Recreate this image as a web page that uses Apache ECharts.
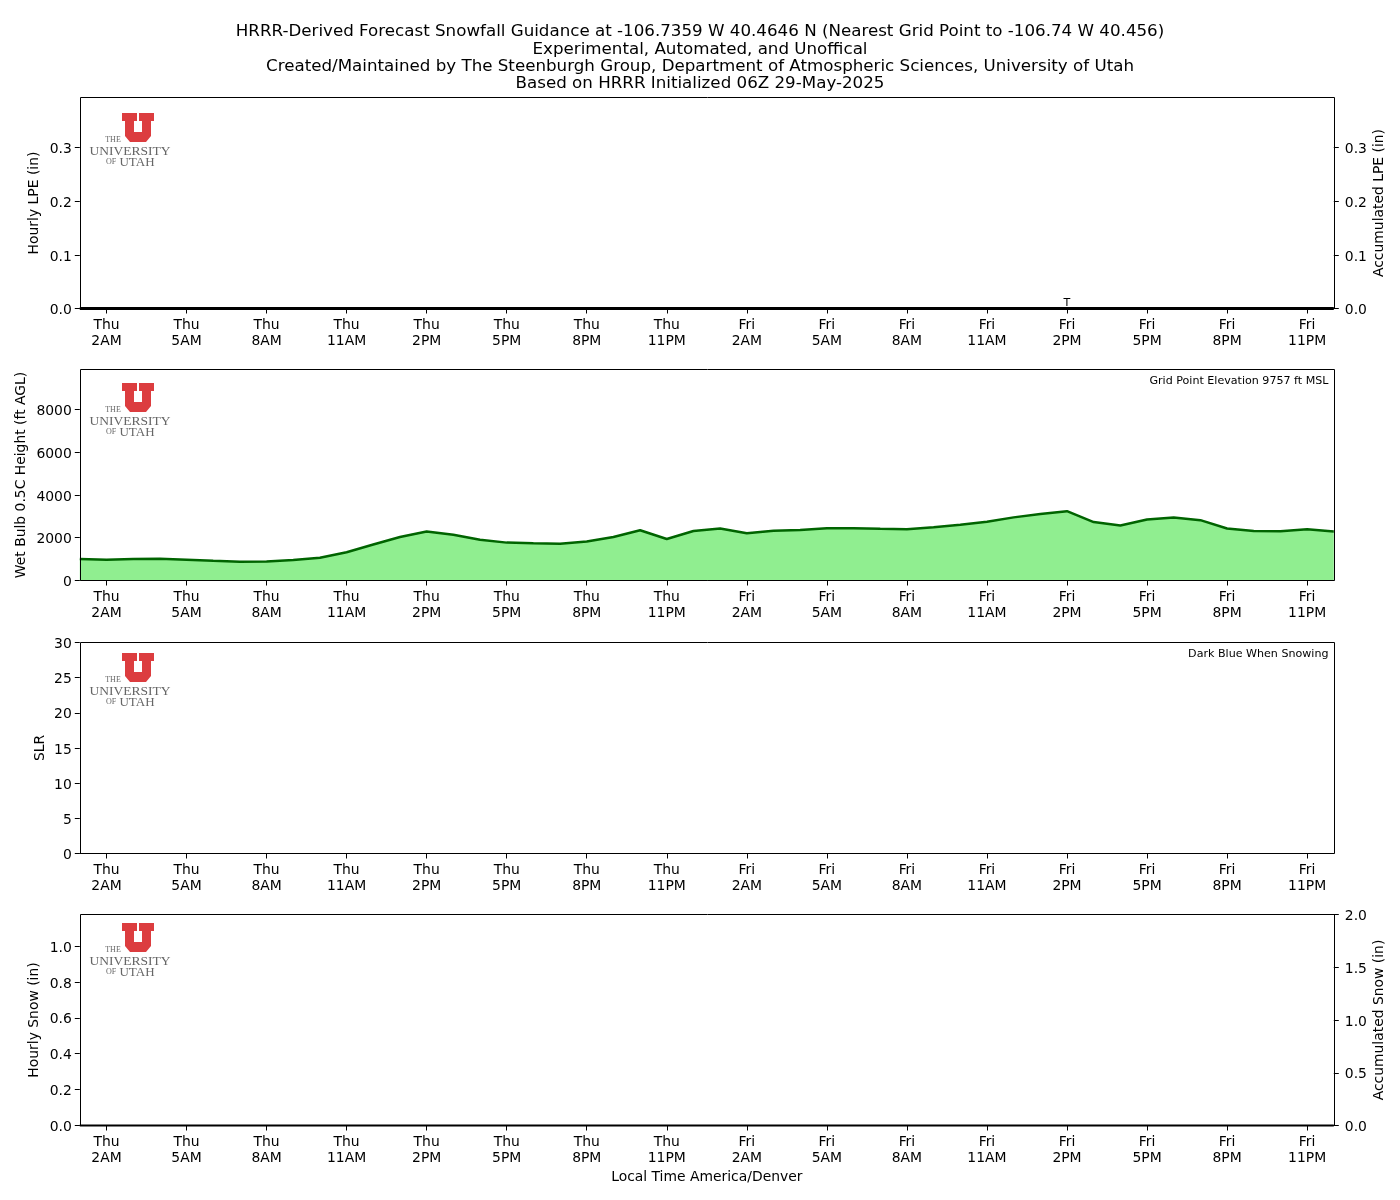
<!DOCTYPE html>
<html><head><meta charset="utf-8">
<style>html,body{margin:0;padding:0;background:#fff}#c{width:1400px;height:1200px}</style>
<script src="https://cdn.jsdelivr.net/npm/echarts@6/dist/echarts.min.js"></script>
</head><body><div id="c"></div>
<script>
var titleLines = [
 'HRRR-Derived Forecast Snowfall Guidance at -106.7359 W 40.4646 N (Nearest Grid Point to -106.74 W 40.456)',
 'Experimental, Automated, and Unoffical',
 'Created/Maintained by The Steenburgh Group, Department of Atmospheric Sciences, University of Utah',
 'Based on HRRR Initialized 06Z 29-May-2025'];
var hours = ['Thu\n1AM','Thu\n2AM','Thu\n3AM','Thu\n4AM','Thu\n5AM','Thu\n6AM','Thu\n7AM','Thu\n8AM','Thu\n9AM','Thu\n10AM','Thu\n11AM','Thu\n12PM','Thu\n1PM','Thu\n2PM','Thu\n3PM','Thu\n4PM','Thu\n5PM','Thu\n6PM','Thu\n7PM','Thu\n8PM','Thu\n9PM','Thu\n10PM','Thu\n11PM','Fri\n12AM','Fri\n1AM','Fri\n2AM','Fri\n3AM','Fri\n4AM','Fri\n5AM','Fri\n6AM','Fri\n7AM','Fri\n8AM','Fri\n9AM','Fri\n10AM','Fri\n11AM','Fri\n12PM','Fri\n1PM','Fri\n2PM','Fri\n3PM','Fri\n4PM','Fri\n5PM','Fri\n6PM','Fri\n7PM','Fri\n8PM','Fri\n9PM','Fri\n10PM','Fri\n11PM','Sat\n12AM'];
var wetBulb = [1000,970,1000,1020,970,920,880,890,960,1060,1320,1680,2030,2290,2140,1900,1770,1740,1720,1820,2030,2350,1940,2310,2430,2210,2330,2360,2440,2440,2415,2400,2490,2600,2750,2950,3110,3240,2730,2570,2850,2940,2820,2430,2310,2300,2390,2290];
var accumLPE = [0,0,0,0,0,0,0,0,0,0,0,0,0,0,0,0,0,0,0,0,0,0,0,0,0,0,0,0,0,0,0,0,0,0,0,0,0,0,0,0,0,0,0,0,0,0,0,0];
var accumSnow = [0,0,0,0,0,0,0,0,0,0,0,0,0,0,0,0,0,0,0,0,0,0,0,0,0,0,0,0,0,0,0,0,0,0,0,0,0,0,0,0,0,0,0,0,0,0,0,0];
var traceLabel = {index:37, value:0.0, text:'T'};
var lpeTicks = [0,0.1,0.2,0.3];
var wbTicks = [0,2000,4000,6000,8000];
var slrTicks = [0,5,10,15,20,25,30];
var snowTicks = [0,0.2,0.4,0.6,0.8,1.0];
var accSnowTicks = [0,0.5,1.0,1.5,2.0];
var logoU = [[0,0],[15,0],[15,8],[12,8],[12,19],[20,19],[20,8],[17,8],[17,0],[32,0],[32,8],[29,8],[29,23],[24,29],[8,29],[3,23],[3,8],[0,8]];

var FONT = '"DejaVu Sans"';
var tops = [97.5,369.5,642.5,914.5], H = 211, L = 79.8, W = 1254;
function xAxisFor(i){
  return {type:'category',gridIndex:i,data:hours,boundaryGap:false,
    axisLine:{show:true,onZero:false,lineStyle:{color:'#000',width:1}},
    axisTick:{alignWithLabel:true,length:5,interval:function(k){return k%3===1;},lineStyle:{color:'#000'}},
    axisLabel:{interval:function(k){return k%3===1;},color:'#000',fontFamily:FONT,fontSize:13.9,lineHeight:16,margin:9,hideOverlap:false},
    splitLine:{show:false},
    name:i===3?'Local Time America/Denver':'',nameLocation:'middle',nameGap:45,nameMoveOverlap:false,
    nameTextStyle:{color:'#000',fontFamily:FONT,fontSize:13.9}};
}
function yAxisFor(i,name,min,max,ticks,pos,gap,dec){
  return {type:'value',gridIndex:i,position:pos,min:min,max:max,scale:false,
    name:name,nameLocation:'middle',nameGap:gap,nameRotate:90,nameMoveOverlap:false,
    nameTextStyle:{color:'#000',fontFamily:FONT,fontSize:13.9},
    axisLine:{show:false},
    axisTick:{show:true,length:5,customValues:ticks,lineStyle:{color:'#000'}},
    axisLabel:{color:'#000',fontFamily:FONT,fontSize:13.9,margin:pos==='right'?11:8,verticalAlign:'top',padding:[-5,0,0,0],customValues:ticks,
      formatter:function(v){return dec===0?String(v):v.toFixed(dec);}},
    splitLine:{show:false}};
}
var grids = tops.map(function(t){return {left:L,top:t,width:W,height:H,show:false};});
var xAxes = [0,1,2,3].map(xAxisFor);
var yAxes = [
  yAxisFor(0,'Hourly LPE (in)',0,0.3937,lpeTicks,'left',38,1),
  yAxisFor(0,'Accumulated LPE (in)',0,0.3937,lpeTicks,'right',39,1),
  yAxisFor(1,'Wet Bulb 0.5C Height (ft AGL)',0,9860,wbTicks,'left',51,0),
  yAxisFor(2,'SLR',0,30,slrTicks,'left',32,0),
  yAxisFor(3,'Hourly Snow (in)',0,1.176,snowTicks,'left',38,1),
  yAxisFor(3,'Accumulated Snow (in)',0,2,accSnowTicks,'right',39,1)
];
var series = [
 {type:'line',xAxisIndex:0,yAxisIndex:1,data:accumLPE,symbol:'none',silent:true,clip:false,z:5,
  lineStyle:{color:'#000',width:3},
  markPoint:{silent:true,symbol:'circle',symbolSize:1,itemStyle:{color:'rgba(0,0,0,0)'},
    data:[{coord:[traceLabel.index,traceLabel.value],name:traceLabel.text,
      label:{show:true,position:'top',distance:-1,formatter:traceLabel.text,color:'#000',fontFamily:FONT,fontSize:11.1}}]}},
 {type:'line',xAxisIndex:1,yAxisIndex:2,data:wetBulb,symbol:'none',silent:true,
  lineStyle:{color:'#006400',width:2.5},areaStyle:{color:'#90EE90',opacity:1,origin:'start'},z:5},
 {type:'line',xAxisIndex:3,yAxisIndex:5,data:accumSnow,symbol:'none',silent:true,clip:false,z:5,
  lineStyle:{color:'#000',width:2}}
];
var graphic = [];
titleLines.forEach(function(s,i){
  graphic.push({type:'text',x:700,y:32+i*17.3,silent:true,z:20,
    style:{text:s,fill:'#000',font:'16.7px "DejaVu Sans"',align:'center',verticalAlign:'middle'}});
});
tops.forEach(function(t){
  graphic.push({type:'rect',silent:true,z:15,shape:{x:80.5,y:t,width:1254,height:H},style:{fill:'none',stroke:'#000',lineWidth:1}});
});
graphic.push({type:'text',x:1328.5,y:381,silent:true,z:20,style:{text:'Grid Point Elevation 9757 ft MSL',fill:'#000',font:'11.1px "DejaVu Sans"',align:'right',verticalAlign:'middle'}});
graphic.push({type:'text',x:1328.5,y:654,silent:true,z:20,style:{text:'Dark Blue When Snowing',fill:'#000',font:'11.1px "DejaVu Sans"',align:'right',verticalAlign:'middle'}});
[0,270,540,810].forEach(function(dy){
  graphic.push({type:'polygon',x:122,y:113+dy,silent:true,z:20,shape:{points:logoU},style:{fill:'#DC3D3F'}});
  var ser='"Liberation Serif"';
  graphic.push({type:'text',x:113,y:139.5+dy,silent:true,z:20,style:{text:'THE',fill:'#666',font:'8px '+ser,align:'center',verticalAlign:'middle'}});
  graphic.push({type:'text',x:130,y:151+dy,silent:true,z:20,style:{text:'UNIVERSITY',fill:'#666',font:'13.5px '+ser,align:'center',verticalAlign:'middle'}});
  graphic.push({type:'text',x:111,y:162+dy,silent:true,z:20,style:{text:'OF',fill:'#666',font:'8px '+ser,align:'center',verticalAlign:'middle'}});
  graphic.push({type:'text',x:137,y:163+dy,silent:true,z:20,style:{text:'UTAH',fill:'#666',font:'13px '+ser,align:'center',verticalAlign:'middle'}});
});
var chart = echarts.init(document.getElementById('c'),null,{renderer:'canvas',width:1400,height:1200});
chart.setOption({animation:false,backgroundColor:'#fff',grid:grids,xAxis:xAxes,yAxis:yAxes,series:series,graphic:graphic,tooltip:{show:false}});
</script></body></html>
